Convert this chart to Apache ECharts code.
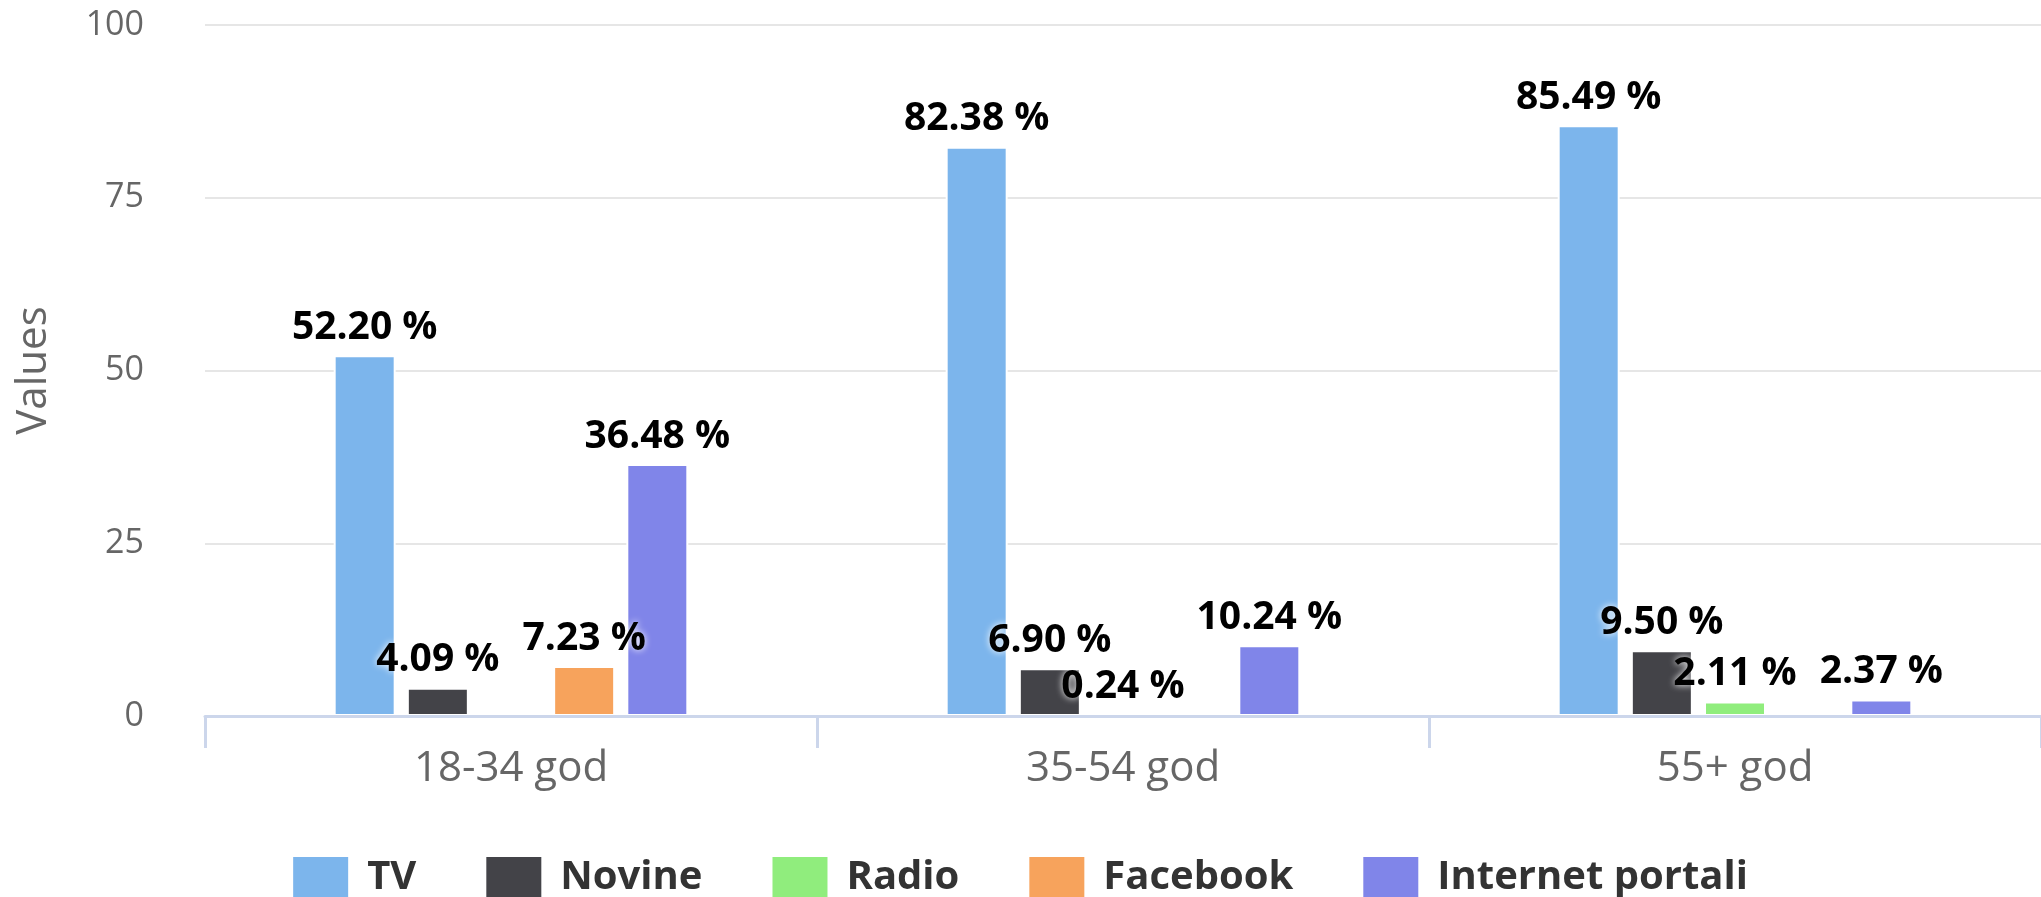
<!DOCTYPE html>
<html>
<head>
<meta charset="utf-8">
<script src="https://cdn.jsdelivr.net/npm/echarts@6/dist/echarts.min.js"></script>
<style>
html,body{margin:0;padding:0;background:#fff;}
#chart{width:2041px;height:897px;}
</style>
</head>
<body>
<div id="chart"></div>
<script>
var categories = ['18-34 god', '35-54 god', '55+ god'];
var seriesNames = ['TV', 'Novine', 'Radio', 'Facebook', 'Internet portali'];
var tvValues = [52.20, 82.38, 85.49];
var novineValues = [4.09, 6.90, 9.50];
var radioValues = [null, 0.24, 2.11];
var facebookValues = [7.23, null, null];
var internetValues = [36.48, 10.24, 2.37];
var yTicks = [0, 25, 50, 75, 100];
var colors = ['#7cb5ec', '#434348', '#90ed7d', '#f7a35c', '#8085e9'];

var allValues = [tvValues, novineValues, radioValues, facebookValues, internetValues];
var FONT = 'Open Sans';

var chart = echarts.init(document.getElementById('chart'), null, {renderer: 'canvas'});
var series = seriesNames.map(function (name, i) {
  return {
    name: name,
    type: 'bar',
    data: allValues[i],
    barWidth: 62,
    barGap: '18%',
    itemStyle: {color: colors[i], borderColor: '#ffffff', borderWidth: 2},
    label: {
      show: true,
      position: 'top',
      distance: 8,
      fontFamily: FONT,
      fontSize: 39,
      fontWeight: 'bold',
      color: '#000',
      textShadowColor: '#ffffff',
      textShadowBlur: 7,
      formatter: function (p) {
        return p.value == null ? '' : p.value.toFixed(2) + ' %';
      }
    },
    emphasis: {disabled: true}
  };
});

chart.setOption({
  animation: false,
  color: colors,
  grid: {left: 205, top: 25, height: 691, width: 1851, containLabel: false},
  legend: {
    data: seriesNames,
    top: 852,
    left: 'center',
    icon: 'rect',
    itemWidth: 55,
    itemHeight: 41,
    itemGap: 70,
    itemStyle: {borderWidth: 0},
    textStyle: {
      fontFamily: FONT,
      fontSize: 40,
      fontWeight: 'bold',
      color: '#333',
      padding: [0, 0, 0, 14]
    }
  },
  xAxis: {
    type: 'category',
    data: categories,
    z: 3,
    axisLine: {lineStyle: {color: '#ccd6eb', width: 3}},
    axisTick: {show: true, length: 32, lineStyle: {color: '#ccd6eb', width: 3}},
    axisLabel: {fontFamily: FONT, fontSize: 42, color: '#666', margin: 32}
  },
  yAxis: {
    type: 'value',
    min: yTicks[0],
    max: yTicks[yTicks.length - 1],
    interval: 25,
    name: 'Values',
    nameLocation: 'middle',
    nameGap: 150,
    nameTextStyle: {fontFamily: FONT, fontSize: 42, color: '#666'},
    axisLine: {show: false},
    axisTick: {show: false},
    axisLabel: {fontFamily: FONT, fontSize: 34, color: '#666', margin: 61},
    splitLine: {lineStyle: {color: '#e6e6e6', width: 2}}
  },
  series: series
});
</script>
</body>
</html>
